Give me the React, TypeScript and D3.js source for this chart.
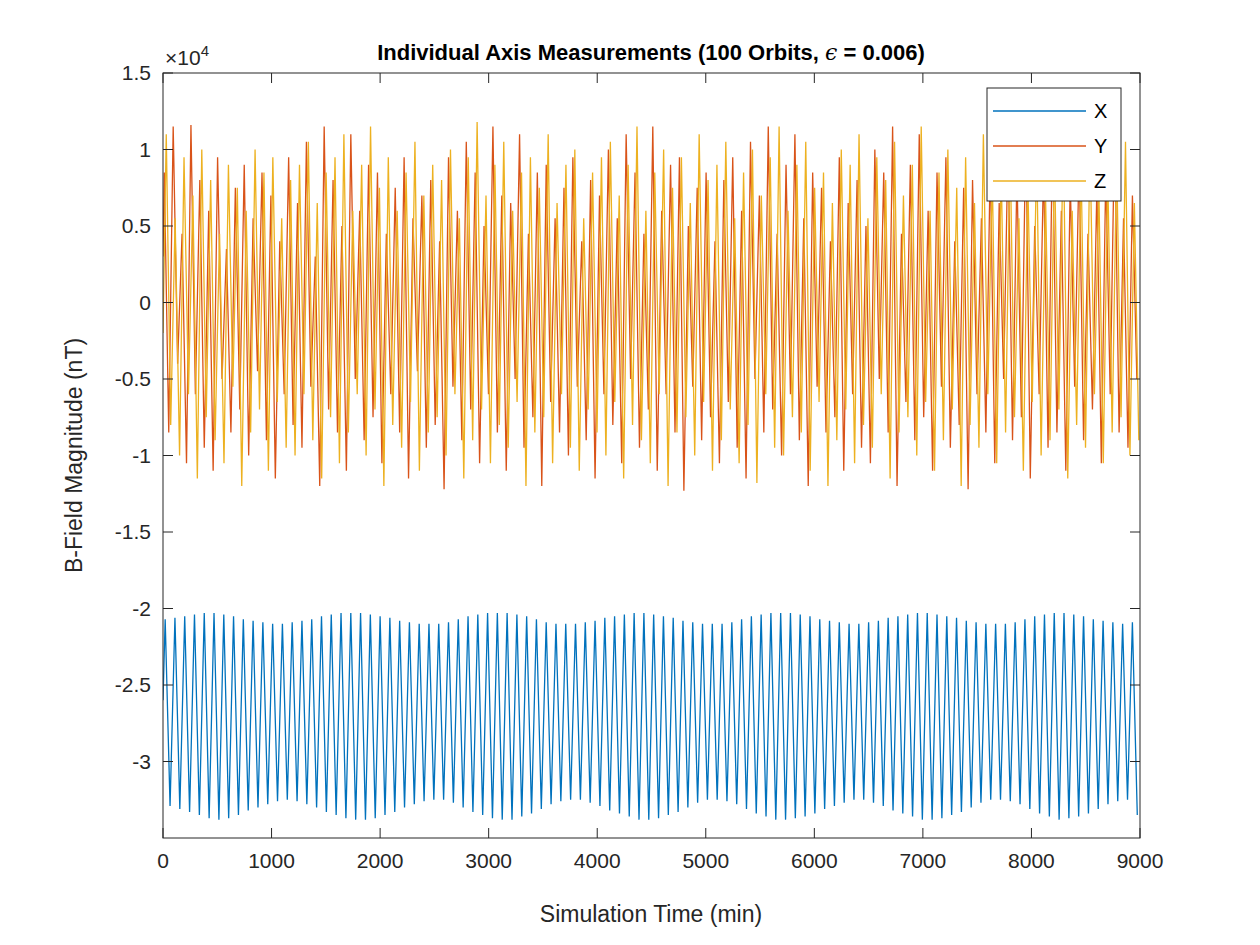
import * as d3 from 'd3';

// per-orbit extremes, units of 1e4 nT
const xPeaks = [-2.07,-2.06,-2.05,-2.04,-2.03,-2.03,-2.04,-2.05,-2.07,-2.08,-2.09,-2.10,-2.10,-2.09,-2.08,-2.07,-2.05,
  -2.04,-2.03,-2.03,-2.03,-2.04,-2.05,-2.06,-2.08,-2.09,-2.10,-2.10,-2.10,-2.09,-2.07,-2.05,-2.04,-2.03,
  -2.03,-2.03,-2.04,-2.05,-2.07,-2.09,-2.10,-2.10,-2.10,-2.09,-2.08,-2.06,-2.05,-2.04,-2.03,-2.03,-2.04,
  -2.05,-2.06,-2.08,-2.09,-2.10,-2.10,-2.10,-2.09,-2.07,-2.05,-2.04,-2.03,-2.03,-2.03,-2.04,-2.05,-2.07,
  -2.08,-2.09,-2.10,-2.10,-2.09,-2.08,-2.06,-2.05,-2.04,-2.03,-2.03,-2.04,-2.05,-2.06,-2.08,-2.09,-2.10,
  -2.10,-2.10,-2.09,-2.07,-2.05,-2.04,-2.03,-2.03,-2.04,-2.05,-2.07,-2.08,-2.09,-2.10,-2.09];
const xTroughs = [-3.29,-3.31,-3.33,-3.35,-3.37,-3.38,-3.37,-3.35,-3.32,-3.30,-3.28,-3.26,-3.25,-3.26,-3.28,-3.30,-3.33,
  -3.35,-3.37,-3.38,-3.38,-3.37,-3.35,-3.33,-3.30,-3.28,-3.26,-3.25,-3.25,-3.27,-3.30,-3.33,-3.35,-3.37,
  -3.38,-3.38,-3.36,-3.34,-3.31,-3.28,-3.26,-3.25,-3.25,-3.27,-3.29,-3.32,-3.34,-3.36,-3.38,-3.38,-3.37,
  -3.35,-3.33,-3.30,-3.27,-3.25,-3.25,-3.26,-3.28,-3.31,-3.34,-3.36,-3.38,-3.38,-3.37,-3.36,-3.34,-3.31,
  -3.29,-3.27,-3.25,-3.25,-3.27,-3.29,-3.32,-3.34,-3.36,-3.38,-3.38,-3.37,-3.35,-3.33,-3.30,-3.27,-3.25,
  -3.25,-3.26,-3.28,-3.31,-3.34,-3.36,-3.38,-3.37,-3.36,-3.34,-3.31,-3.28,-3.26,-3.25,-3.35];

const yPeaks = '0.85 1.15 0.45 1.16 0.80 0.60 0.95 0.35 0.75 0.90 0.55 0.85 0.70 0.40 0.95 0.65 1.05 0.30 1.15 0.80 0.50 1.10 0.60 0.90 0.85 0.45 0.75 0.95 0.55 0.70 0.80 0.40 0.95 0.60 1.05 0.85 0.50 1.15 0.70 0.65 1.10 0.45 0.85 0.90 0.55 0.75 0.95 0.40 0.80 0.70 1.00 0.55 1.10 0.85 0.45 1.15 0.60 0.90 0.95 0.50 0.75 0.85 0.40 0.80 0.95 0.60 1.05 0.70 1.15 0.45 0.90 1.10 0.55 0.85 0.75 0.40 0.95 0.65 0.80 0.50 1.00 0.85 1.15 0.45 0.90 1.10 0.60 0.85 0.95 0.40 0.75 0.80 0.55 0.95 0.65 1.05 0.85 1.15 0.50 0.90 1.10 0.60 0.80 0.95 0.45 0.75 0.85 1.16 0.55 0.70'.split(' ').map(Number);
const yTroughs = '-0.85 -0.40 -1.05 -0.60 -0.95 -1.10 -0.50 -0.85 -0.70 -1.00 -0.45 -0.90 -1.15 -0.60 -0.80 -0.95 -0.55 -1.20 -0.70 -0.85 -1.10 -0.50 -0.90 -0.75 -1.05 -0.60 -0.85 -1.15 -0.45 -0.95 -0.80 -1.22 -0.55 -0.90 -0.70 -1.05 -0.60 -0.85 -1.10 -0.50 -0.95 -0.75 -1.20 -0.65 -0.85 -1.00 -0.55 -0.90 -1.15 -0.60 -0.80 -1.05 -0.50 -0.95 -0.70 -1.10 -0.60 -0.85 -1.23 -0.55 -0.90 -0.75 -1.05 -0.65 -0.95 -1.15 -0.50 -0.85 -0.70 -1.00 -0.60 -0.90 -1.20 -0.55 -0.85 -0.75 -1.10 -0.60 -0.95 -1.05 -0.50 -0.85 -1.20 -0.65 -0.90 -0.75 -1.10 -0.55 -0.95 -0.80 -1.22 -0.60 -0.85 -1.05 -0.50 -0.90 -0.75 -1.15 -0.60 -0.95 -0.85 -1.10 -0.55 -0.90 -0.70 -1.05 -0.60 -0.85 -0.95 -0.50'.split(' ').map(Number);
const zPeaks = '1.10 0.55 0.95 0.70 1.00 0.80 0.45 0.90 0.75 0.60 1.00 0.85 0.95 0.55 0.80 0.90 1.05 0.65 0.85 0.95 1.10 0.60 0.90 1.15 0.75 0.95 0.60 0.85 1.05 0.70 0.90 0.80 1.00 0.55 0.95 1.18 0.70 0.90 1.05 0.60 0.85 0.95 0.75 1.10 0.65 0.90 1.00 0.55 0.85 0.95 1.05 0.70 0.90 1.15 0.60 0.85 1.00 0.75 0.95 0.65 1.10 0.80 0.90 1.05 0.55 0.85 1.00 0.70 0.95 1.15 0.60 0.90 1.05 0.75 0.85 0.65 1.00 0.90 1.10 0.55 0.95 0.80 1.05 0.70 0.90 1.15 0.60 0.85 1.00 0.75 0.95 0.65 1.10 0.85 0.90 1.05 0.55 0.80 1.00 0.70 0.95 1.15 0.60 0.90 1.05 0.75 0.85 0.95 1.05 0.65'.split(' ').map(Number);
const zTroughs = '-0.80 -1.00 -0.60 -1.15 -0.75 -0.90 -1.05 -0.55 -1.20 -0.85 -0.70 -1.10 -0.65 -0.95 -1.00 -0.60 -0.90 -1.15 -0.75 -1.05 -0.85 -0.60 -1.00 -0.70 -1.20 -0.80 -0.95 -0.65 -1.10 -0.85 -0.75 -1.00 -0.60 -1.15 -0.90 -0.70 -1.05 -0.80 -0.95 -0.65 -1.20 -0.85 -0.75 -1.05 -0.60 -0.95 -1.10 -0.70 -0.85 -1.00 -0.65 -1.15 -0.80 -0.90 -1.05 -0.60 -1.20 -0.85 -0.75 -1.00 -0.65 -1.10 -0.90 -0.70 -1.05 -0.80 -1.18 -0.60 -0.95 -1.00 -0.75 -0.85 -1.10 -0.65 -1.20 -0.90 -0.70 -1.05 -0.80 -0.95 -0.60 -1.15 -0.85 -0.75 -1.00 -0.65 -1.10 -0.90 -0.70 -1.20 -0.80 -0.95 -0.60 -1.05 -0.85 -0.75 -1.10 -0.65 -1.00 -0.90 -0.70 -1.15 -0.80 -0.95 -0.60 -1.05 -0.85 -0.75 -1.00 -0.90'.split(' ').map(Number);

const xTicks = [0, 1000, 2000, 3000, 4000, 5000, 6000, 7000, 8000, 9000];
const yTicks = [1.5, 1, 0.5, 0, -0.5, -1, -1.5, -2, -2.5, -3];
const seriesNames = ['X', 'Y', 'Z'];
const colors = ['#0072BD', '#D95319', '#EDB120'];

const T_END = 9000;

function zigzag(peaks: number[], troughs: number[], start: number, firstVal: number): [number, number][] {
  const n = Math.min(peaks.length, troughs.length);
  const half = T_END / (2 * n);
  const pts: [number, number][] = [[0, firstVal]];
  for (let i = 0; i < n; i++) {
    const t0 = start + i * 2 * half;
    if (t0 <= T_END) pts.push([t0, peaks[i]]);
    if (t0 + half <= T_END) pts.push([t0 + half, troughs[i]]);
  }
  return pts;
}

export default function App() {
  const W = 1260, H = 945;
  const m = { left: 163, right: 1140, top: 73, bottom: 838 };
  const x = d3.scaleLinear().domain([0, T_END]).range([m.left, m.right]);
  const y = d3.scaleLinear().domain([-3.5, 1.5]).range([m.bottom, m.top]);
  const line = d3.line<[number, number]>().x((d) => x(d[0])).y((d) => y(d[1]));
  const data = [
    zigzag(xPeaks, xTroughs, 20, -2.6),
    zigzag(yPeaks, yTroughs, 12, 0.3),
    zigzag(zPeaks, zTroughs, 30, -0.2),
  ];
  const font = 'Arial, "Liberation Sans", Helvetica, sans-serif';
  const ax = '#262626';
  const tl = 10;
  return (
    <svg width={W} height={H} style={{ display: 'block', position: 'absolute', left: 0, top: 0 }} fontFamily={font}>
      <rect width={W} height={H} fill="#fff" />
      <defs>
        <clipPath id="pa"><rect x={m.left} y={m.top} width={m.right - m.left} height={m.bottom - m.top} /></clipPath>
      </defs>
      <g clipPath="url(#pa)">
        {data.map((d, i) => (
          <path key={i} d={line(d) || ''} fill="none" stroke={colors[i]} strokeWidth={1.3} />
        ))}
      </g>
      <rect x={m.left} y={m.top} width={m.right - m.left} height={m.bottom - m.top} fill="none" stroke={ax} strokeWidth={1} />
      {xTicks.map((t) => (
        <g key={t}>
          <line x1={x(t)} x2={x(t)} y1={m.bottom} y2={m.bottom - tl} stroke={ax} />
          <line x1={x(t)} x2={x(t)} y1={m.top} y2={m.top + tl} stroke={ax} />
          <text x={x(t)} y={m.bottom + 30} textAnchor="middle" fontSize={21} fill={ax}>{t}</text>
        </g>
      ))}
      {yTicks.map((t) => (
        <g key={t}>
          <line x1={m.left} x2={m.left + tl} y1={y(t)} y2={y(t)} stroke={ax} />
          <line x1={m.right} x2={m.right - tl} y1={y(t)} y2={y(t)} stroke={ax} />
          <text x={m.left - 12} y={y(t) + 7} textAnchor="end" fontSize={21} fill={ax}>{t}</text>
        </g>
      ))}
      <text x={165} y={65} fontSize={21} fill={ax}>×10<tspan dy={-9} fontSize={15}>4</tspan></text>
      <text x={651} y={60} textAnchor="middle" fontSize={22} fontWeight="bold" fill="#000">
        Individual Axis Measurements (100 Orbits, <tspan fontStyle="italic" fontWeight="normal" fontFamily="'DejaVu Serif', serif">ϵ</tspan> = 0.006)
      </text>
      <text x={651} y={922} textAnchor="middle" fontSize={23} fill={ax}>Simulation Time (min)</text>
      <text transform={`translate(82, ${(m.top + m.bottom) / 2}) rotate(-90)`} textAnchor="middle" fontSize={23} fill={ax}>B-Field Magnitude (nT)</text>
      <g>
        <rect x={987} y={88} width={134} height={113} fill="#fff" stroke={ax} />
        {seriesNames.map((s, i) => (
          <g key={s}>
            <line x1={993} x2={1086} y1={111 + i * 35} y2={111 + i * 35} stroke={colors[i]} strokeWidth={1.3} />
            <text x={1094} y={118 + i * 35} fontSize={20} fill="#000">{s}</text>
          </g>
        ))}
      </g>
    </svg>
  );
}
